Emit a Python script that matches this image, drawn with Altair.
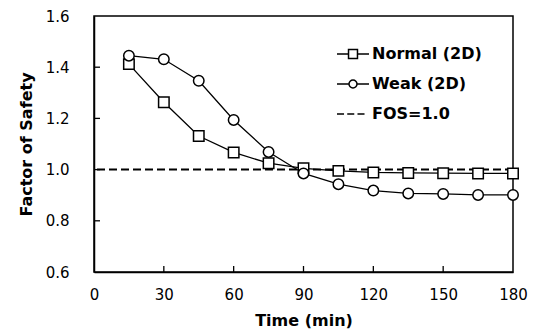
import altair as alt
import pandas as pd

time_min = [15, 30, 45, 60, 75, 90, 105, 120, 135, 150, 165, 180]
fos_normal = [1.412, 1.263, 1.131, 1.067, 1.025, 1.005, 0.995, 0.989, 0.987, 0.986, 0.985, 0.985]
fos_weak = [1.445, 1.431, 1.347, 1.194, 1.069, 0.985, 0.943, 0.918, 0.907, 0.905, 0.901, 0.901]
series_names = ["Normal (2D)", "Weak (2D)", "FOS=1.0"]
fos_limit = 1.0
x_tick_values = [0, 30, 60, 90, 120, 150, 180]
y_tick_values = [0.6, 0.8, 1.0, 1.2, 1.4, 1.6]

FONT = "DejaVu Sans"
W, H = 419, 256

rows = []
for t, a, b in zip(time_min, fos_normal, fos_weak):
    rows.append({"time": t, "fos": a, "series": series_names[0]})
    rows.append({"time": t, "fos": b, "series": series_names[1]})
df = pd.DataFrame(rows)

xs = alt.Scale(domain=[0, 180], nice=False, zero=False)
ys = alt.Scale(domain=[0.6, 1.6], nice=False, zero=False)

xax = alt.Axis(values=x_tick_values, title="Time (min)", ticks=False, tickSize=0,
               labelPadding=15, titlePadding=10, grid=False, labelFlush=False)
yax = alt.Axis(values=y_tick_values, title="Factor of Safety", ticks=False, tickSize=0,
               labelPadding=25, titlePadding=11, grid=False, format=".1f", labelFlush=False)

base = alt.Chart(df)

lines = base.mark_line(color="black", strokeWidth=1.3).encode(
    x=alt.X("time:Q", scale=xs, axis=xax),
    y=alt.Y("fos:Q", scale=ys, axis=yax),
    detail="series:N",
)

points = base.mark_point(filled=True, fill="white", stroke="black", strokeWidth=1.5,
                         size=110, opacity=1).encode(
    x=alt.X("time:Q", scale=xs),
    y=alt.Y("fos:Q", scale=ys),
    shape=alt.Shape("series:N", scale=alt.Scale(domain=series_names[:2], range=["square", "circle"]),
                    legend=None),
)

limit_df = pd.DataFrame({"fos": [fos_limit]})
rule = alt.Chart(limit_df).mark_rule(color="black", strokeWidth=2, strokeDash=[8, 4]).encode(
    y=alt.Y("fos:Q", scale=ys),
)

k = 0.138
r = 0.25
sq = "M-1,0L-0.28,0M-0.28,-0.28L0.28,-0.28L0.28,0.28L-0.28,0.28ZM0.28,0L1,0"
circ = (f"M-1,0L-{r},0M{r},0L1,0"
        f"M{r},0C{r},{k} {k},{r} 0,{r}C-{k},{r} -{r},{k} -{r},0"
        f"C-{r},-{k} -{k},-{r} 0,-{r}C{k},-{r} {r},-{k} {r},0Z")
dash = "M-1,0L-0.56,0M-0.36,0L0.08,0M0.28,0L0.72,0"

legend_df = pd.DataFrame({"series": series_names})
legend_layer = alt.Chart(legend_df).mark_point(filled=False, stroke="black").encode(
    x=alt.X("time:Q", scale=xs),
    y=alt.Y("fos:Q", scale=ys),
    shape=alt.Shape("series:N", scale=alt.Scale(domain=series_names, range=[sq, circ, dash]),
                    legend=alt.Legend(title=None, orient="none", legendX=242, legendY=21,
                                      symbolSize=1024, symbolFillColor="white",
                                      symbolStrokeColor="black", symbolStrokeWidth=1.5,
                                      symbolOpacity=1,
                                      labelFont=FONT, labelFontSize=16, labelFontWeight="bold",
                                      labelColor="black", labelOffset=2, rowPadding=5,
                                      padding=0)),
).transform_filter("false")

x_ticks_df = pd.DataFrame({"t": x_tick_values[1:-1]})
y_ticks_df = pd.DataFrame({"v": y_tick_values[1:-1]})
xticks = alt.Chart(x_ticks_df).mark_rule(color="black", strokeWidth=1.3).encode(
    x=alt.X("t:Q", scale=xs), y=alt.value(H), y2=alt.value(H - 6))
yticks = alt.Chart(y_ticks_df).mark_rule(color="black", strokeWidth=1.3).encode(
    y=alt.Y("v:Q", scale=ys), x=alt.value(0), x2=alt.value(6))

chart = alt.layer(rule, lines, points, legend_layer, xticks, yticks).resolve_scale(
    shape="independent"
).properties(
    width=W, height=H,
    autosize=alt.AutoSizeParams(type="none"),
    padding={"left": 94, "top": 16, "right": 23, "bottom": 64},
    background="white",
).configure_view(
    stroke="black", strokeWidth=1.5
).configure_axis(
    domainColor="black", domainWidth=1.5,
    labelFont=FONT, labelFontSize=15, labelColor="black",
    titleFont=FONT, titleFontSize=16, titleFontWeight="bold", titleColor="black",
)

chart.save("out.html", embed_options={"renderer": "svg", "actions": False})
